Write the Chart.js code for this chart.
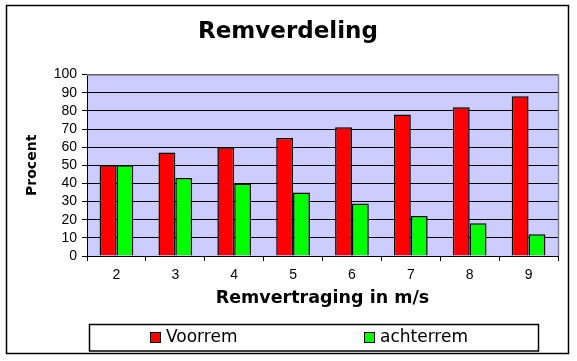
<!DOCTYPE html>
<html>
<head>
<meta charset="utf-8">
<script src="https://cdn.jsdelivr.net/npm/chart.js@4.4.0/dist/chart.umd.min.js"></script>
<style>
  html, body { margin: 0; padding: 0; background: #fff; }
  #wrap { width: 577px; height: 361px; }
</style>
</head>
<body>
<div id="wrap"><canvas id="grafiek"></canvas></div>
<script>
// gegevens uit de grafiek
const categorieen = ['2', '3', '4', '5', '6', '7', '8', '9'];
const voorrem = [50, 57, 60, 65, 71, 78, 82, 88];
const achterrem = [50, 43, 40, 35, 29, 22, 18, 12];
const yTicks = [0, 10, 20, 30, 40, 50, 60, 70, 80, 90, 100];

// rand om de hele grafiek + paarse achtergrond van het plotvlak
const achtergrond = {
    id: 'achtergrond',
    beforeDraw(chart) {
        const ctx = chart.ctx;
        const a = chart.chartArea;
        ctx.save();
        ctx.fillStyle = '#fff';
        ctx.fillRect(0, 0, chart.width, chart.height);
        ctx.strokeStyle = '#000';
        ctx.lineWidth = 1.5;
        ctx.strokeRect(6.5, 5.5, 562, 348);
        ctx.fillStyle = '#CCCCFF';
        ctx.fillRect(a.left, a.top, a.right - a.left, a.bottom - a.top);
        ctx.restore();
    },
    afterDraw(chart) {
        const ctx = chart.ctx;
        const a = chart.chartArea;
        ctx.save();
        ctx.strokeStyle = '#808080';
        ctx.lineWidth = 1.5;
        ctx.beginPath();
        ctx.moveTo(a.left, a.top + 0.5);
        ctx.lineTo(a.right + 0.5, a.top + 0.5);
        ctx.lineTo(a.right + 0.5, a.bottom);
        ctx.stroke();
        ctx.restore();
    }
};

// legenda onderaan in een kader, zoals in Excel
const legendaKader = {
    id: 'legendaKader',
    afterDraw(chart) {
        const ctx = chart.ctx;
        ctx.save();
        ctx.strokeStyle = '#000';
        ctx.lineWidth = 1.5;
        ctx.strokeRect(89.5, 324.5, 449, 26.5);
        const xPos = [150, 364];
        ctx.font = '17px "DejaVu Sans"';
        ctx.textBaseline = 'middle';
        chart.data.datasets.forEach((ds, i) => {
            const x = xPos[i];
            ctx.fillStyle = ds.backgroundColor;
            ctx.fillRect(x, 332, 11, 11);
            ctx.strokeStyle = '#000';
            ctx.lineWidth = 1;
            ctx.strokeRect(x + 0.5, 332.5, 10, 10);
            ctx.fillStyle = '#000';
            ctx.fillText(ds.label, x + 16, 338);
        });
        ctx.restore();
    }
};

const ctx = document.getElementById('grafiek').getContext('2d');
const grafiek = new Chart(ctx, {
    type: 'bar',
    data: {
        labels: categorieen,
        datasets: [
            {
                label: 'Voorrem',
                data: voorrem,
                backgroundColor: '#FF0000',
                borderColor: '#000',
                borderWidth: 1.5,
            },
            {
                label: 'achterrem',
                data: achterrem,
                backgroundColor: '#00FF00',
                borderColor: '#000',
                borderWidth: 1.5,
            },
        ],
    },
    options: {
        responsive: true,
        maintainAspectRatio: false,
        animation: false,
        layout: { padding: { top: 6, left: 18, right: 19, bottom: 40 } },
        datasets: { bar: { categoryPercentage: 0.572, barPercentage: 1 } },
        plugins: {
            legend: { display: false },
            tooltip: { enabled: false },
            title: {
                display: true,
                text: 'Remverdeling',
                color: '#000',
                font: { family: '"DejaVu Sans"', size: 23, weight: 'bold' },
                padding: { top: 12, bottom: 29 },
            },
        },
        scales: {
            x: {
                afterFit: s => { s.height = 65; },
                grid: {
                    offset: true,
                    drawOnChartArea: false,
                    color: '#000',
                    tickLength: 5,
                },
                border: { color: '#000', width: 1 },
                ticks: {
                    color: '#000',
                    padding: 6,
                    font: { family: '"Liberation Sans"', size: 14 },
                },
                title: {
                    display: true,
                    text: 'Remvertraging in m/s',
                    color: '#000',
                    font: { family: '"DejaVu Sans"', size: 17.5, weight: 'bold' },
                    padding: { top: 0, bottom: 12 },
                },
            },
            y: {
                min: 0,
                max: 100,
                afterFit: s => { s.width = 69; },
                afterBuildTicks: s => { s.ticks = yTicks.map(v => ({ value: v })); },
                grid: {
                    color: '#000',
                    lineWidth: 1,
                    tickLength: 5,
                },
                border: { color: '#000', width: 1 },
                ticks: {
                    autoSkip: false,
                    color: '#000',
                    padding: 5,
                    font: { family: '"Liberation Sans"', size: 14 },
                },
                title: {
                    display: true,
                    text: 'Procent',
                    color: '#000',
                    font: { family: '"DejaVu Sans"', size: 14, weight: 'bold' },
                    padding: { top: 6, bottom: 0 },
                },
            },
        },
    },
    plugins: [achtergrond, legendaKader],
});
</script>
</body>
</html>
